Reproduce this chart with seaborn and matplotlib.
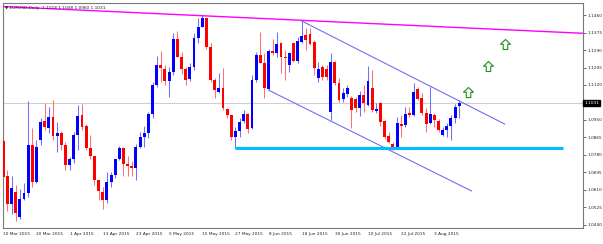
import matplotlib
matplotlib.use("Agg")
import matplotlib.pyplot as plt
import seaborn as sns
import numpy as np
import pandas as pd
from matplotlib.path import Path

# ---------------- data (EURUSD daily, 10 Mar 2015 -> 11 Aug 2015) ----------------
opens = [
    1.0848, 1.0678, 1.0541, 1.0600, 1.0478, 1.0566, 1.0595, 1.0828, 1.0648, 1.0852,
    1.0945, 1.0911, 1.0964, 1.0870, 1.0886, 1.0828, 1.0731, 1.0760, 1.0877, 1.0975,
    1.0920, 1.0814, 1.0775, 1.0658, 1.0598, 1.0561, 1.0648, 1.0682, 1.0760, 1.0813,
    1.0736, 1.0726, 1.0717, 1.0818, 1.0867, 1.0886, 1.0979, 1.1120, 1.1217, 1.1197,
    1.1139, 1.1183, 1.1344, 1.1256, 1.1197, 1.1149, 1.1207, 1.1348, 1.1402, 1.1445,
    1.1305, 1.1144, 1.1086, 1.1105, 1.1003, 1.0974, 1.0867, 1.0896, 1.0945, 1.0979,
    1.0910, 1.1144, 1.1266, 1.1227, 1.1100, 1.1285, 1.1275, 1.1324, 1.1256, 1.1217,
    1.1324, 1.1236, 1.1329, 1.1363, 1.1368, 1.1329, 1.1154, 1.1207, 1.1197, 1.0988,
    1.1231, 1.1130, 1.1052, 1.1076, 1.1057, 1.1052, 1.1008, 1.1071, 1.1023, 1.1105,
    1.0995, 1.1032, 1.0946, 1.0871, 1.0833, 1.0820, 1.0930, 1.0925, 1.0982, 1.0974,
    1.1099, 1.1055, 1.0982, 1.0933, 1.0974, 1.0946, 1.0877, 1.0901, 1.0920, 1.0958,
    1.1018]
highs = [
    1.0862, 1.0707, 1.0678, 1.0634, 1.0614, 1.0644, 1.1042, 1.0911, 1.0852, 1.0959,
    1.1032, 1.1013, 1.1047, 1.0940, 1.0896, 1.0843, 1.0770, 1.0891, 1.1023, 1.1027,
    1.0930, 1.0877, 1.0775, 1.0658, 1.0624, 1.0697, 1.0697, 1.0760, 1.0822, 1.0818,
    1.0775, 1.0751, 1.0833, 1.0891, 1.0920, 1.0988, 1.1134, 1.1261, 1.1285, 1.1217,
    1.1207, 1.1373, 1.1382, 1.1280, 1.1207, 1.1227, 1.1373, 1.1445, 1.1460, 1.1445,
    1.1324, 1.1154, 1.1178, 1.1202, 1.1008, 1.0974, 1.0915, 1.0959, 1.0998, 1.0983,
    1.1168, 1.1280, 1.1377, 1.1275, 1.1295, 1.1344, 1.1377, 1.1329, 1.1290, 1.1280,
    1.1324, 1.1353, 1.1431, 1.1397, 1.1397, 1.1339, 1.1231, 1.1217, 1.1217, 1.1275,
    1.1236, 1.1154, 1.1105, 1.1120, 1.1066, 1.1062, 1.1093, 1.1120, 1.1212, 1.1192,
    1.1031, 1.1035, 1.0949, 1.0893, 1.0844, 1.0966, 1.0974, 1.1012, 1.1012, 1.1128,
    1.1109, 1.1079, 1.1006, 1.1112, 1.0982, 1.0953, 1.0917, 1.0934, 1.0974, 1.1027,
    1.1048]
lows = [
    1.0663, 1.0507, 1.0493, 1.0459, 1.0469, 1.0561, 1.0575, 1.0624, 1.0644, 1.0828,
    1.0901, 1.0886, 1.0852, 1.0794, 1.0804, 1.0707, 1.0707, 1.0741, 1.0804, 1.0901,
    1.0804, 1.0760, 1.0634, 1.0561, 1.0517, 1.0546, 1.0624, 1.0668, 1.0756, 1.0680,
    1.0680, 1.0678, 1.0658, 1.0813, 1.0818, 1.0862, 1.0959, 1.1110, 1.1134, 1.1120,
    1.1061, 1.1168, 1.1256, 1.1173, 1.1120, 1.1139, 1.1192, 1.1324, 1.1402, 1.1295,
    1.1134, 1.1056, 1.1081, 1.0998, 1.0959, 1.0852, 1.0814, 1.0867, 1.0935, 1.0886,
    1.0905, 1.1134, 1.1227, 1.1056, 1.1095, 1.1266, 1.1256, 1.1178, 1.1144, 1.1183,
    1.1231, 1.1227, 1.1324, 1.1290, 1.1314, 1.1168, 1.1134, 1.1144, 1.1144, 1.0949,
    1.1120, 1.1037, 1.1037, 1.1062, 1.0911, 1.0988, 1.0969, 1.0988, 1.1018, 1.0988,
    1.0983, 1.0920, 1.0860, 1.0836, 1.0804, 1.0812, 1.0869, 1.0915, 1.0966, 1.0969,
    1.1047, 1.0974, 1.0893, 1.0930, 1.0917, 1.0893, 1.0872, 1.0869, 1.0853, 1.0937,
    1.0960]
closes = [
    1.0673, 1.0541, 1.0619, 1.0498, 1.0566, 1.0595, 1.0828, 1.0648, 1.0818, 1.0940,
    1.0915, 1.0964, 1.0870, 1.0886, 1.0828, 1.0731, 1.0760, 1.0877, 1.0970, 1.0915,
    1.0814, 1.0775, 1.0658, 1.0604, 1.0561, 1.0648, 1.0682, 1.0760, 1.0813, 1.0736,
    1.0726, 1.0717, 1.0818, 1.0867, 1.0886, 1.0979, 1.1120, 1.1217, 1.1202, 1.1139,
    1.1183, 1.1344, 1.1256, 1.1197, 1.1144, 1.1207, 1.1348, 1.1402, 1.1445, 1.1305,
    1.1144, 1.1095, 1.1105, 1.1008, 1.0974, 1.0867, 1.0896, 1.0940, 1.0979, 1.0905,
    1.1144, 1.1266, 1.1227, 1.1105, 1.1285, 1.1275, 1.1319, 1.1256, 1.1251, 1.1275,
    1.1236, 1.1334, 1.1358, 1.1339, 1.1319, 1.1202, 1.1197, 1.1159, 1.1159, 1.1231,
    1.1130, 1.1047, 1.1081, 1.1105, 1.1000, 1.1008, 1.1071, 1.1031, 1.1139, 1.0998,
    1.1003, 1.0941, 1.0868, 1.0844, 1.0820, 1.0937, 1.0920, 1.0979, 1.0974, 1.1087,
    1.1050, 1.0982, 1.0930, 1.0978, 1.0949, 1.0901, 1.0901, 1.0920, 1.0958, 1.1011,
    1.1031]

x_tick_pos = [0, 8, 16, 24, 32, 40, 48, 56, 64, 72, 80, 88, 96, 104]
x_tick_labels = ["10 Mar 2015", "20 Mar 2015", "1 Apr 2015", "13 Apr 2015", "23 Apr 2015",
                 "5 May 2015", "15 May 2015", "27 May 2015", "8 Jun 2015", "18 Jun 2015",
                 "30 Jun 2015", "10 Jul 2015", "22 Jul 2015", "3 Aug 2015"]
y_ticks = [1.1460, 1.1375, 1.1290, 1.1205, 1.1120, 1.0950, 1.0865,
           1.0780, 1.0695, 1.0610, 1.0525, 1.0440]
title_text = "EURUSD,Daily  1.1018 1.1048 1.0960 1.1031"
last_price = 1.1031

# drawn objects (bar index, price)
resist_x, resist_y = [-1, 140], [1.1502, 1.1371]
chan_up_x, chan_up_y = [72, 121], [1.1431, 1.0930]
chan_lo_x, chan_lo_y = [64, 113], [1.1095, 1.0605]
support_x, support_y = [56, 135], [1.0812, 1.0812]
arrow_x, arrow_y = [112, 117, 121], [1.1087, 1.1212, 1.1319]

# ---------------- styling ----------------
sns.set_style("white")
plt.rcParams['font.family'] = ['DejaVu Sans']
FS = 3.1
TXT = '#222222'

W, H = 603, 244
fig = plt.figure(figsize=(W / 100, H / 100), dpi=100)
L, R, T, B = 3, 583, 3, 228
ax = fig.add_axes([L / W, 1 - B / H, (R - L) / W, (B - T) / H])

df = pd.DataFrame(dict(idx=np.arange(len(opens)), open=opens, high=highs,
                       low=lows, close=closes))
bull = df.close >= df.open
body_col = np.where(bull, '#0000FF', '#FF0000')
wick_col = np.where(bull, '#7070FF', '#FF7070')

ax.axhline(last_price, color='#cfcfcf', lw=0.8, zorder=1)

ax.vlines(df.idx, df.low, df.high, colors=wick_col, lw=0.75, zorder=2)
height = (df.close - df.open).to_numpy()
height = np.where(np.abs(height) < 0.00016, np.where(bull, 0.00016, -0.00016), height)
ax.bar(df.idx, height, bottom=df.open, width=0.7, color=body_col, lw=0, zorder=3)

sns.lineplot(x=resist_x, y=resist_y, ax=ax, color='#FF00FF', lw=1.0, zorder=4,
             estimator=None, sort=False)
sns.lineplot(x=chan_up_x, y=chan_up_y, ax=ax, color='#7070F0', lw=0.8, zorder=4,
             estimator=None, sort=False)
sns.lineplot(x=chan_lo_x, y=chan_lo_y, ax=ax, color='#7070F0', lw=0.8, zorder=4,
             estimator=None, sort=False)
sns.lineplot(x=support_x, y=support_y, ax=ax, color='#00BFFF', lw=2.2, zorder=4,
             estimator=None, sort=False, solid_capstyle='butt')

arrow_verts = [(0, 1), (1, 0.05), (0.45, 0.05), (0.45, -1), (-0.45, -1),
               (-0.45, 0.05), (-1, 0.05), (0, 1)]
arrow_marker = Path(arrow_verts, closed=True)
ax.scatter(arrow_x, arrow_y, marker=arrow_marker, s=52, facecolor='white',
           edgecolor='#1f8f1f', linewidth=0.8, zorder=5)

ax.set_xlim(-0.07, 139.86)
ax.set_ylim(1.04254, 1.15183)

for s in ax.spines.values():
    s.set_color('#7a7a7a')
    s.set_linewidth(0.8)

ax.yaxis.tick_right()
ax.set_yticks(y_ticks)
ax.set_yticklabels([f"{v:.4f}" for v in y_ticks])
ax.tick_params(axis='y', direction='out', length=2, width=0.6, color='#555555',
               labelsize=FS, labelcolor=TXT, pad=1.5)
ax.set_xticks(x_tick_pos)
ax.set_xticklabels(x_tick_labels)
for lab in ax.get_xticklabels():
    lab.set_horizontalalignment('left')
ax.tick_params(axis='x', direction='out', length=2, width=0.6, color='#555555',
               labelsize=FS, labelcolor=TXT, pad=1.2)
ax.set_xlabel('')
ax.set_ylabel('')

ax.text(1.002, last_price, f"{last_price:.4f}", transform=ax.get_yaxis_transform(),
        ha='left', va='center', fontsize=FS, color='white', zorder=6,
        bbox=dict(boxstyle='square,pad=0.25', fc='black', ec='black'), clip_on=False)

ax.text(0.004, 0.985, "\u25BC " + title_text, transform=ax.transAxes, fontsize=FS,
        va='top', ha='left', color=TXT, zorder=6)

fig.savefig("out.png", dpi=100)
